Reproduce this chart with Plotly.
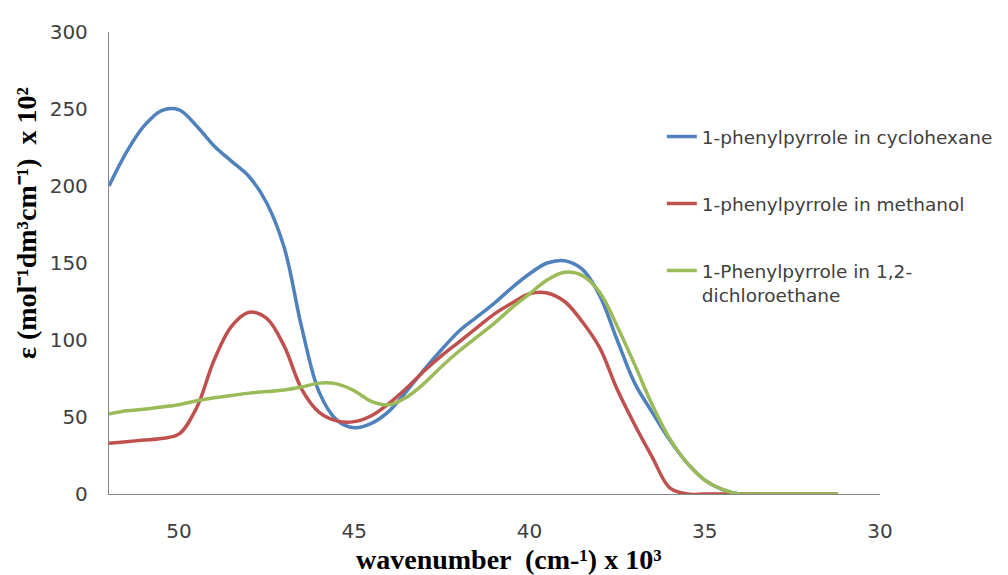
import plotly.graph_objects as go

# wavenumber (x 10^3 cm-1)
x_common = [52, 51.5, 51, 50.5, 50, 49.5, 49, 48.5, 48, 47.5, 47, 46.5, 46, 45.5, 45, 44.5, 44,
            43.5, 43, 42.5, 42, 41.5, 41, 40.5, 40, 39.5, 39, 38.5, 38, 37.5, 37, 36.5, 36,
            35.5, 35, 34.5, 34, 33.5, 33, 32.5, 32, 31.5, 31.2]

y_cyclo = [200, 222, 239, 249, 249.5, 239, 226, 216, 206, 189, 160, 108, 66, 48, 43, 46, 54,
           67, 81, 94, 106, 115, 124, 134, 143, 150, 151.5, 146, 129, 100, 72, 53, 35,
           20, 9, 3, 0, 0, 0, 0, 0, 0, 0]

y_meth = [33, 34, 35, 36, 39, 56, 87, 109, 118, 114, 96, 68, 53, 47.5, 47, 51, 59,
          69, 80, 90, 99, 108, 117, 124, 130, 130.5, 125, 112, 95, 68, 45, 24, 4,
          0, 0, 0, 0, 0, 0, 0, 0, 0, 0]

y_dce = [52, 54, 55, 56.5, 58, 60.5, 62.5, 64, 65.5, 66.5, 67.5, 69.5, 72, 71.5, 67, 60, 58,
         63, 72, 83, 93, 102, 111, 121, 130, 139, 144, 142, 131, 109, 84, 58, 36,
         20, 9, 3, 0, 0, 0, 0, 0, 0, 0]

names = ["1-phenylpyrrole in cyclohexane",
         "1-phenylpyrrole in methanol",
         "1-Phenylpyrrole in 1,2-<br>dichloroethane"]
colors = ["#4F81BD", "#C0504D", "#9BBB59"]

x_ticks = [50, 45, 40, 35, 30]
y_ticks = [0, 50, 100, 150, 200, 250, 300]

x_title = "<b>wavenumber  (cm-¹) x 10³</b>"
y_title = "<b>ε (mol⁻¹dm³cm⁻¹)  x 10²</b>"

fig = go.Figure()
for i, ys in enumerate([y_cyclo, y_meth, y_dce]):
    fig.add_trace(go.Scatter(
        x=x_common, y=ys, mode="lines", name=names[i], legendgroup=str(i),
        line=dict(color=colors[i], width=3.5, shape="spline", smoothing=1.0),
    ))

tick_font = dict(family="DejaVu Sans", size=20, color="#404040")
title_font = dict(family="Liberation Serif", size=28, color="#000000")

fig.update_layout(
    width=1008, height=575,
    margin=dict(l=101, r=136, t=14, b=89),
    paper_bgcolor="white", plot_bgcolor="white",
    showlegend=True,
    legend=dict(
        x=0.717, y=0.814, xanchor="left", yanchor="top",
        font=dict(family="DejaVu Sans", size=18.5, color="#404040"),
        tracegroupgap=40, valign="top", bgcolor="rgba(0,0,0,0)",
    ),
    xaxis=dict(
        range=[52, 30], tickmode="array", tickvals=x_ticks,
        ticktext=[str(t) for t in x_ticks],
        showgrid=False, zeroline=False, showline=True, linecolor="#868686", linewidth=1.3,
        ticks="", tickfont=tick_font, ticklabelstandoff=19,
    ),
    yaxis=dict(
        range=[0, 300], tickmode="array", tickvals=y_ticks,
        showgrid=False, zeroline=False, showline=True, linecolor="#868686", linewidth=1.3,
        ticks="", tickfont=tick_font, ticklabelstandoff=16,
    ),
    annotations=[
        dict(text=x_title, font=title_font, xref="paper", yref="paper",
             x=0.519, y=-0.142, xanchor="center", yanchor="middle", showarrow=False),
        dict(text=y_title, font=title_font, xref="paper", yref="paper", textangle=-90,
             x=-0.106, y=0.587, xanchor="center", yanchor="middle", showarrow=False),
    ],
)

fig.write_html("out.html")
